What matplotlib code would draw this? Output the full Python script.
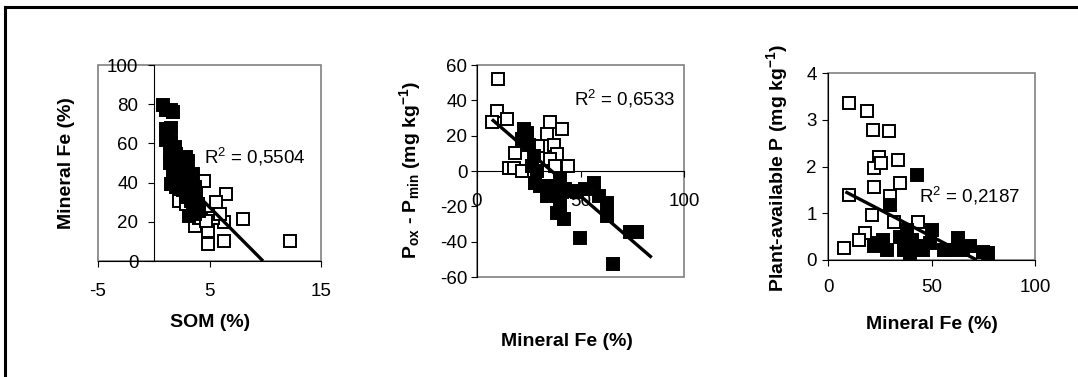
import matplotlib
matplotlib.use('Agg')
import matplotlib.pyplot as plt
from matplotlib.patches import Rectangle
from matplotlib.lines import Line2D
import numpy as np

plt.rcParams['font.family'] = ['Liberation Sans', 'DejaVu Sans']
plt.rcParams['mathtext.fontset'] = 'custom'
plt.rcParams['mathtext.rm'] = 'Liberation Sans'
plt.rcParams['mathtext.it'] = 'Liberation Sans'
plt.rcParams['mathtext.bf'] = 'Liberation Sans:bold'
plt.rcParams['axes.unicode_minus'] = False

# panel 1 : SOM (%) vs Mineral Fe (%)
som_open = [4.55, 6.5, 5.6, 8.0, 3.66, 4.85, 4.85, 6.34, 6.34, 5.3, 12.2, 2.3, 2.9, 4.1, 5.9, 4.7]
fe1_open = [41, 34, 30, 21.4, 18, 15.4, 8.5, 10.3, 19.7, 22, 10.3, 30.8, 29, 22, 24, 20.5]
som_fill = [0.82, 1.06, 1.57, 1.7, 1.12, 1.57, 1.27, 1.12, 1.57, 1.87, 1.42, 2.0, 2.3, 2.9,
            3.06, 2.46, 2.9, 1.7, 2.0, 2.3, 2.9, 3.5, 1.57, 2.0, 2.6, 3.2, 3.66, 2.9, 3.36,
            3.8, 3.96, 3.5, 4.1, 3.66, 3.2, 3.8, 1.5, 1.8, 2.5, 2.2, 1.9, 3.4]
fe1_fill = [79.5, 77, 77, 76, 67.5, 68, 63, 61.5, 60.7, 58, 54.7, 54.7, 51, 53, 51, 48, 48.7,
            44.4, 41, 42.7, 41, 44.4, 39.3, 37.6, 36, 39.3, 37.6, 32.5, 30.8, 32.5, 29, 27.4,
            25.6, 24, 23, 34, 50, 47, 44, 52, 45, 42]
trend1_x = [2.5, 9.8]
trend1_y = [41.8, 0.0]

# panel 2 : Mineral Fe (%) vs Pox - Pmin
fe2_open = [10, 9.6, 7.2, 14.5, 18.5, 15.3, 17.7, 21.7, 35.4, 33.8, 41, 37, 38.6, 35.4, 44.2,
            37.8, 29.7, 24]
p2_open = [52.2, 33.9, 27.7, 29.2, 10.4, 1.9, 1.9, 0, 27.7, 20.7, 23.5, 15, 9.4, 6.6, 2.8,
           2.8, 14, 18]
fe2_fill = [22.5, 24, 21.7, 24.9, 27.3, 26.5, 29, 28.1, 30.5, 33.8, 35.4, 38.6, 40.2, 41,
            42.6, 38.6, 41.8, 40.2, 48.2, 52.3, 56.3, 58.7, 62.7, 62.7, 49.8, 65.9, 74, 77.2,
            37, 45.8]
p2_fill = [23.5, 21.7, 18, 15, 8.5, 2.8, 0, -6.6, -8.5, -14, -8.5, -8.5, -4.7, -12, -10,
           -23.5, -27.3, -19.8, -12, -10.4, -6.6, -14, -17.9, -25.4, -37.7, -52.7, -34.8,
           -34.5, -13, -11.3]
trend2_x = [7.2, 84.4]
trend2_y = [29.2, -49.0]

# panel 3 : Mineral Fe (%) vs plant-available P
fe3_open = [10, 18.8, 21.7, 29.3, 24.4, 22, 25.6, 34, 22, 34.9, 30, 10, 21.2, 31.7, 43.7,
            18, 14.8, 7.6]
p3_open = [3.36, 3.18, 2.79, 2.75, 2.21, 1.96, 2.07, 2.14, 1.57, 1.64, 1.36, 1.39, 0.96,
           0.82, 0.82, 0.57, 0.43, 0.25]
fe3_fill = [42.9, 30, 22, 26.8, 28.5, 34.9, 36.5, 38.1, 40.5, 42.9, 39.7, 46.1, 50.2, 49.4,
            55.8, 59, 63, 65.4, 68.6, 75, 77.5, 36.5, 23.6]
p3_fill = [1.82, 1.18, 0.29, 0.43, 0.21, 0.5, 0.21, 0.64, 0.43, 0.29, 0.14, 0.21, 0.64, 0.36,
           0.21, 0.21, 0.46, 0.21, 0.29, 0.18, 0.14, 0.43, 0.36]
trend3_x = [8.4, 71.9]
trend3_y = [1.46, 0.0]

fig = plt.figure(figsize=(10.78, 3.77), dpi=100)

# outer border (only left and top visible)
fig.add_artist(Line2D([5/1078, 5/1078], [0, 1 - 7/377], color='black', lw=2.2,
                      transform=fig.transFigure))
fig.add_artist(Line2D([5/1078, 1], [1 - 7/377, 1 - 7/377], color='black', lw=2.2,
                      transform=fig.transFigure))

ax1 = fig.add_axes([98/1078, 1 - 261/377, 223/1078, 196/377])
ax2 = fig.add_axes([477/1078, 1 - 277/377, 207/1078, 212/377])
ax3 = fig.add_axes([828/1078, 1 - 260/377, 207/1078, 187/377])

ms = 8
mew = 1.4
fs_tick = 13.5
fs_lab = 14


def draw(ax, xo, yo, xf, yf, tx, ty):
    ax.plot(xo, yo, 's', ms=ms, mfc='white', mec='black', mew=mew, ls='none', clip_on=False, zorder=3)
    ax.plot(xf, yf, 's', ms=ms, mfc='black', mec='black', mew=mew, ls='none', clip_on=False, zorder=4)
    ax.plot(tx, ty, color='black', lw=2.4, solid_capstyle='butt', zorder=5)
    ax.add_patch(Rectangle((0, 0), 1, 1, transform=ax.transAxes, fill=False,
                           edgecolor='#808080', lw=1.2, zorder=1, clip_on=False))
    for s in ['top', 'right']:
        ax.spines[s].set_visible(False)
    ax.tick_params(labelsize=fs_tick, length=4, width=0.8, direction='out')


draw(ax1, som_open, fe1_open, som_fill, fe1_fill, trend1_x, trend1_y)
ax1.set_xlim(-5, 15)
ax1.set_ylim(0, 100)
ax1.set_xticks([-5, 5, 15])
ax1.set_yticks(np.arange(0, 101, 20))
ax1.spines['left'].set_position(('data', 0))
ax1.tick_params(axis='x', pad=12)
ax1.tick_params(axis='y', pad=7)
ax1.set_xlabel('SOM (%)', fontsize=fs_lab, fontweight='bold')
ax1.set_ylabel('Mineral Fe (%)', fontsize=fs_lab, fontweight='bold')
ax1.xaxis.set_label_coords(0.502, -0.27)
ax1.yaxis.set_label_coords(-0.103, 0.5)
ax1.text(4.55, 53, r'R$^2$ = 0,5504', fontsize=fs_tick, va='center', zorder=6)

draw(ax2, fe2_open, p2_open, fe2_fill, p2_fill, trend2_x, trend2_y)
ax2.set_xlim(0, 100)
ax2.set_ylim(-60, 60)
ax2.set_xticks([0, 50, 100])
ax2.set_yticks(np.arange(-60, 61, 20))
ax2.spines['bottom'].set_position(('data', 0))
ax2.spines['bottom'].set_linewidth(0.8)
ax2.tick_params(axis='x', pad=12)
ax2.tick_params(axis='y', pad=3)
ax2.set_xlabel('Mineral Fe (%)', fontsize=fs_lab, fontweight='bold')
ax2.set_ylabel(r'$\mathbf{P_{ox}}$ - $\mathbf{P_{min}}$ (mg kg$\mathbf{^{-1}}$)',
               fontsize=fs_lab, fontweight='bold')
ax2.xaxis.set_label_coords(0.435, -0.265)
ax2.yaxis.set_label_coords(-0.261, 0.505)
ax2.text(47, 41, r'R$^2$ = 0,6533', fontsize=fs_tick, va='center', zorder=6)

draw(ax3, fe3_open, p3_open, fe3_fill, p3_fill, trend3_x, trend3_y)
ax3.set_xlim(0, 100)
ax3.set_ylim(0, 4)
ax3.set_xticks([0, 50, 100])
ax3.set_yticks(np.arange(0, 5, 1))
ax3.tick_params(axis='x', pad=10)
ax3.tick_params(axis='y', pad=4)
ax3.set_xlabel('Mineral Fe (%)', fontsize=fs_lab, fontweight='bold')
ax3.set_ylabel(r'Plant-available P (mg kg$\mathbf{^{-1}}$)', fontsize=fs_lab, fontweight='bold')
ax3.xaxis.set_label_coords(0.50, -0.30)
ax3.yaxis.set_label_coords(-0.184, 0.49)
ax3.text(44, 1.36, r'R$^2$ = 0,2187', fontsize=fs_tick, va='center', zorder=6)

fig.savefig('out.png', dpi=100)
